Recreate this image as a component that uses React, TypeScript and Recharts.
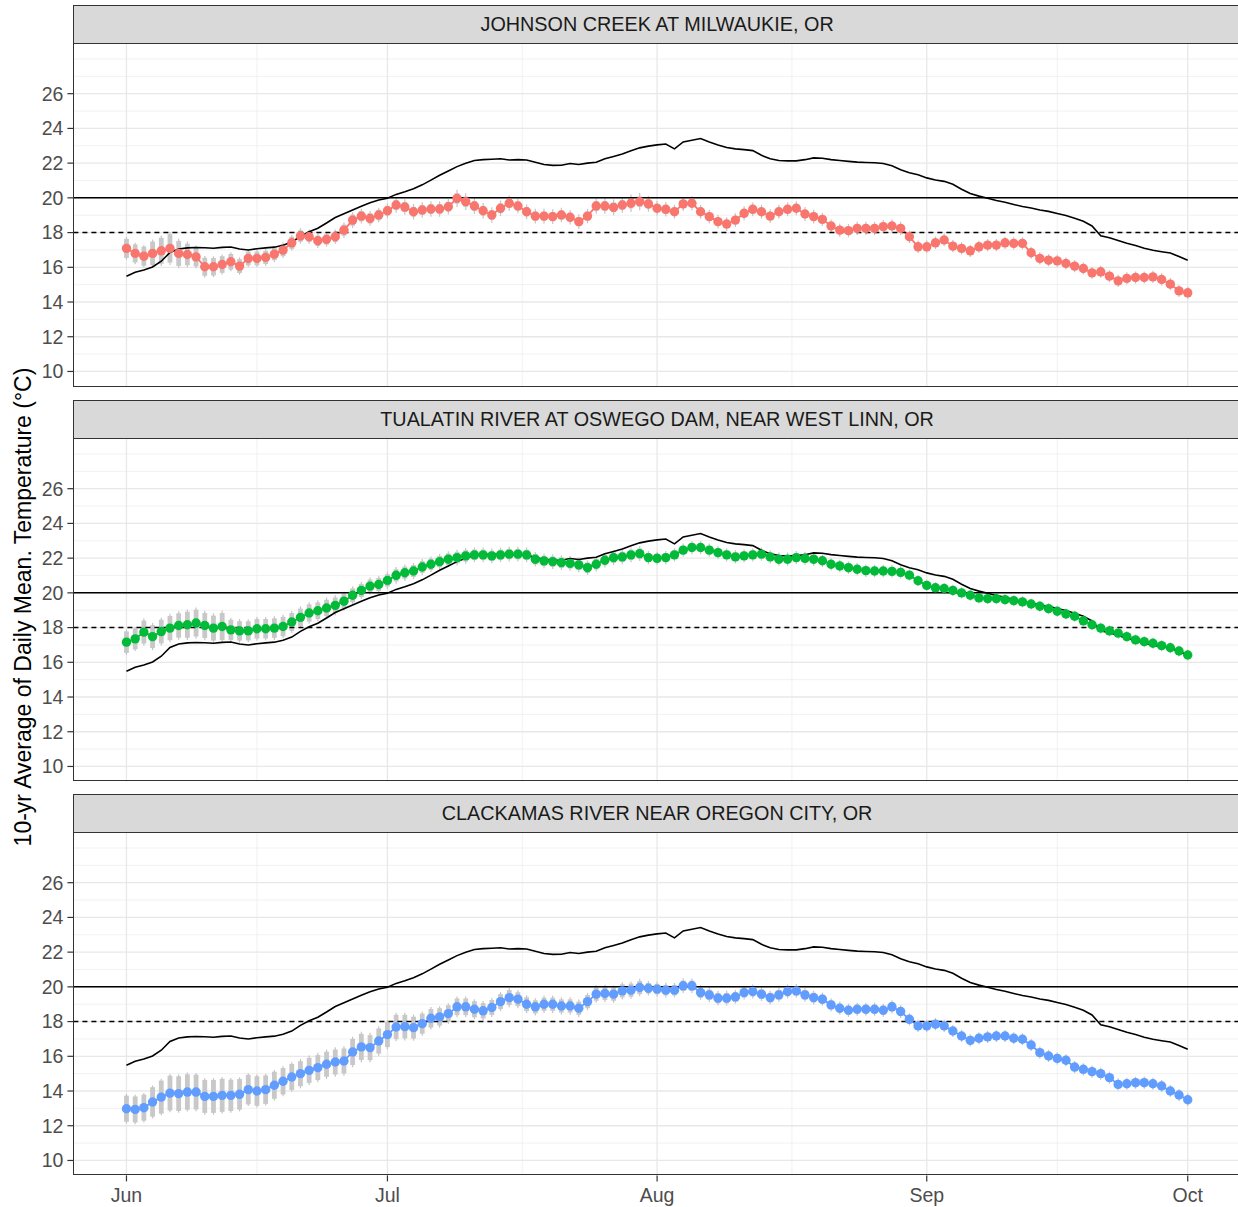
import React from "react";
import {
  ComposedChart,
  Line,
  XAxis,
  YAxis,
  CartesianGrid,
  ReferenceLine,
  ErrorBar,
} from "recharts";

// days since Jun 1 (0 = Jun 1, 122 = Oct 1)
const days = Array.from({ length: 123 }, (_, i) => i);
const monthTicks = [0, 30, 61, 92, 122];
const monthLabels = ["Jun", "Jul", "Aug", "Sep", "Oct"];
const midMonthTicks = [15, 45.5, 76.5, 107];
const yTicks = [10, 12, 14, 16, 18, 20, 22, 24, 26];
const yMinor = [11, 13, 15, 17, 19, 21, 23, 25, 27, 28];

// black reference line (same in every panel)
const refLine = [
  15.49, 15.72, 15.85, 16.02, 16.35, 16.85, 17.05, 17.12, 17.14, 17.13,
  17.1, 17.15, 17.17, 17.05, 17.0, 17.07, 17.12, 17.16, 17.27, 17.45,
  17.78, 18.05, 18.25, 18.55, 18.87, 19.08, 19.3, 19.52, 19.72, 19.88,
  19.98, 20.2, 20.35, 20.52, 20.75, 21.02, 21.3, 21.55, 21.8, 22.0,
  22.15, 22.2, 22.22, 22.25, 22.18, 22.2, 22.18, 22.05, 21.92, 21.87,
  21.88, 21.98, 21.92, 22.0, 22.05, 22.25, 22.38, 22.52, 22.72, 22.88,
  22.98, 23.05, 23.1, 22.82, 23.22, 23.32, 23.42, 23.22, 23.05, 22.9,
  22.82, 22.78, 22.72, 22.45, 22.25, 22.15, 22.13, 22.13, 22.2, 22.3,
  22.28, 22.2, 22.15, 22.1, 22.06, 22.04, 22.02, 21.98, 21.85, 21.62,
  21.45, 21.33, 21.15, 21.03, 20.95, 20.78, 20.5, 20.25, 20.1, 19.98,
  19.85, 19.75, 19.62, 19.5, 19.42, 19.3, 19.22, 19.1, 18.98, 18.82,
  18.65, 18.38, 17.82, 17.7, 17.55, 17.38, 17.25, 17.1, 16.98, 16.9,
  16.82, 16.62, 16.4,
];

const johnson = [
  17.09, 16.8, 16.64, 16.8, 16.95, 17.09, 16.8, 16.74, 16.6, 16.03,
  16.03, 16.16, 16.32, 16.07, 16.51, 16.51, 16.57, 16.76, 16.99, 17.41,
  17.8, 17.76, 17.53, 17.61, 17.76, 18.14, 18.72, 18.95, 18.82, 19.01,
  19.26, 19.59, 19.47, 19.2, 19.3, 19.36, 19.36, 19.49, 19.97, 19.78,
  19.53, 19.26, 19.01, 19.4, 19.69, 19.53, 19.2, 18.95, 18.95, 18.92,
  19.01, 18.88, 18.63, 18.95, 19.53, 19.53, 19.45, 19.59, 19.69, 19.78,
  19.65, 19.4, 19.34, 19.2, 19.65, 19.69, 19.2, 18.92, 18.63, 18.49,
  18.72, 19.11, 19.34, 19.2, 18.95, 19.2, 19.34, 19.4, 19.07, 18.92,
  18.76, 18.38, 18.14, 18.11, 18.24, 18.24, 18.24, 18.34, 18.38, 18.24,
  17.76, 17.18, 17.18, 17.41, 17.57, 17.22, 17.09, 16.95, 17.18, 17.28,
  17.28, 17.41, 17.38, 17.38, 16.84, 16.51, 16.41, 16.37, 16.22, 16.07,
  15.93, 15.68, 15.74, 15.49, 15.22, 15.36, 15.41, 15.41, 15.45, 15.3,
  15.03, 14.64, 14.53,
];
const johnsonSe = [
  0.55, 0.52, 0.55, 0.68, 0.75, 0.82, 0.72, 0.62, 0.55, 0.52,
  0.5, 0.48, 0.45, 0.4, 0.4, 0.4, 0.38, 0.35, 0.35, 0.35,
  0.33, 0.3, 0.3, 0.3, 0.3, 0.32, 0.32, 0.3, 0.3, 0.3,
  0.28, 0.28, 0.28, 0.28, 0.28, 0.28, 0.28, 0.28, 0.3, 0.3,
  0.28, 0.28, 0.28, 0.28, 0.28, 0.26, 0.26, 0.26, 0.26, 0.26,
  0.26, 0.26, 0.26, 0.26, 0.28, 0.28, 0.28, 0.28, 0.3, 0.3,
  0.26, 0.24, 0.24, 0.22, 0.22, 0.22, 0.22, 0.22, 0.22, 0.22,
  0.22, 0.22, 0.22, 0.22, 0.22, 0.22, 0.22, 0.22, 0.22, 0.22,
  0.2, 0.2, 0.2, 0.2, 0.2, 0.2, 0.2, 0.2, 0.2, 0.2,
  0.2, 0.2, 0.2, 0.2, 0.2, 0.18, 0.18, 0.18, 0.18, 0.18,
  0.18, 0.18, 0.18, 0.18, 0.18, 0.18, 0.18, 0.18, 0.18, 0.18,
  0.18, 0.18, 0.18, 0.18, 0.18, 0.18, 0.18, 0.18, 0.18, 0.18,
  0.18, 0.18, 0.18,
];
const johnsonCi = [
  0.65, 0.62, 0.65, 0.8, 0.88, 0.96, 0.85, 0.75, 0.65, 0.62,
  0.6, 0.58, 0.55, 0.5, 0.5, 0.5, 0.48, 0.45, 0.45, 0.45,
  0.45, 0.42, 0.42, 0.42, 0.42, 0.45, 0.45, 0.42, 0.42, 0.42,
  0.42, 0.45, 0.45, 0.45, 0.45, 0.45, 0.45, 0.45, 0.5, 0.48,
  0.45, 0.45, 0.45, 0.45, 0.45, 0.42, 0.42, 0.42, 0.42, 0.42,
  0.42, 0.42, 0.42, 0.42, 0.45, 0.45, 0.45, 0.45, 0.5, 0.5,
  0.45, 0.42, 0.42, 0.4, 0.4, 0.4, 0.4, 0.4, 0.4, 0.4,
  0.4, 0.4, 0.4, 0.4, 0.4, 0.4, 0.4, 0.4, 0.4, 0.4,
  0.38, 0.38, 0.38, 0.38, 0.38, 0.38, 0.38, 0.38, 0.38, 0.38,
  0.36, 0.36, 0.36, 0.36, 0.36, 0.35, 0.35, 0.35, 0.35, 0.35,
  0.35, 0.35, 0.35, 0.35, 0.35, 0.35, 0.35, 0.35, 0.35, 0.35,
  0.35, 0.35, 0.35, 0.35, 0.35, 0.35, 0.35, 0.35, 0.35, 0.35,
  0.35, 0.35, 0.35,
];

const tualatin = [
  17.16, 17.35, 17.74, 17.48, 17.77, 17.97, 18.12, 18.16, 18.26, 18.12,
  17.97, 18.06, 17.87, 17.81, 17.81, 17.93, 17.93, 17.97, 18.06, 18.32,
  18.59, 18.84, 18.97, 19.13, 19.28, 19.52, 19.86, 20.14, 20.39, 20.48,
  20.72, 21.01, 21.16, 21.26, 21.49, 21.65, 21.8, 21.94, 22.03, 22.13,
  22.19, 22.19, 22.13, 22.19, 22.23, 22.23, 22.19, 21.94, 21.84, 21.8,
  21.74, 21.7, 21.61, 21.45, 21.65, 21.88, 22.03, 22.07, 22.19, 22.26,
  22.03, 21.99, 22.03, 22.19, 22.46, 22.61, 22.61, 22.46, 22.32, 22.19,
  22.07, 22.13, 22.19, 22.23, 22.07, 21.94, 21.94, 22.03, 21.99, 21.94,
  21.85, 21.65, 21.55, 21.45, 21.36, 21.28, 21.26, 21.26, 21.24, 21.18,
  21.02, 20.7, 20.43, 20.29, 20.25, 20.14, 20.0, 19.86, 19.71, 19.67,
  19.67, 19.61, 19.55, 19.48, 19.36, 19.23, 19.09, 18.94, 18.78, 18.65,
  18.39, 18.16, 17.97, 17.81, 17.68, 17.48, 17.29, 17.19, 17.1, 16.96,
  16.84, 16.65, 16.42,
];
const tualatinSe = [
  0.62, 0.6, 0.66, 0.66, 0.68, 0.7, 0.7, 0.75, 0.77, 0.72,
  0.72, 0.78, 0.58, 0.56, 0.55, 0.56, 0.56, 0.56, 0.56, 0.52,
  0.5, 0.5, 0.48, 0.47, 0.45, 0.42, 0.4, 0.38, 0.38, 0.38,
  0.36, 0.35, 0.35, 0.34, 0.34, 0.33, 0.33, 0.33, 0.33, 0.33,
  0.3, 0.3, 0.3, 0.3, 0.3, 0.3, 0.3, 0.3, 0.3, 0.3,
  0.3, 0.3, 0.3, 0.3, 0.3, 0.3, 0.3, 0.3, 0.3, 0.3,
  0.25, 0.25, 0.25, 0.25, 0.25, 0.25, 0.25, 0.25, 0.25, 0.25,
  0.25, 0.25, 0.25, 0.25, 0.25, 0.25, 0.25, 0.25, 0.25, 0.25,
  0.24, 0.24, 0.24, 0.24, 0.24, 0.24, 0.24, 0.24, 0.24, 0.24,
  0.2, 0.2, 0.2, 0.2, 0.2, 0.2, 0.2, 0.2, 0.2, 0.2,
  0.2, 0.2, 0.2, 0.2, 0.2, 0.2, 0.2, 0.2, 0.2, 0.2,
  0.2, 0.2, 0.2, 0.2, 0.2, 0.2, 0.2, 0.2, 0.2, 0.2,
  0.2, 0.2, 0.2,
];
const tualatinCi = [
  0.73, 0.7, 0.78, 0.78, 0.8, 0.82, 0.82, 0.88, 0.9, 0.85,
  0.85, 0.92, 0.7, 0.68, 0.66, 0.68, 0.68, 0.68, 0.68, 0.63,
  0.63, 0.62, 0.6, 0.6, 0.58, 0.55, 0.52, 0.5, 0.5, 0.5,
  0.5, 0.48, 0.48, 0.46, 0.46, 0.45, 0.45, 0.45, 0.45, 0.45,
  0.42, 0.42, 0.42, 0.42, 0.42, 0.42, 0.42, 0.42, 0.42, 0.42,
  0.42, 0.42, 0.42, 0.42, 0.42, 0.42, 0.42, 0.42, 0.42, 0.42,
  0.38, 0.38, 0.38, 0.38, 0.38, 0.38, 0.38, 0.38, 0.38, 0.38,
  0.38, 0.38, 0.38, 0.38, 0.38, 0.38, 0.38, 0.38, 0.38, 0.38,
  0.36, 0.36, 0.36, 0.36, 0.36, 0.36, 0.36, 0.36, 0.36, 0.36,
  0.32, 0.32, 0.32, 0.32, 0.32, 0.32, 0.32, 0.32, 0.32, 0.32,
  0.32, 0.32, 0.32, 0.32, 0.32, 0.32, 0.32, 0.32, 0.32, 0.32,
  0.32, 0.32, 0.32, 0.32, 0.32, 0.32, 0.32, 0.32, 0.32, 0.32,
  0.32, 0.32, 0.32,
];

const clackamas = [
  12.98, 12.94, 13.04, 13.37, 13.65, 13.88, 13.85, 13.94, 13.94, 13.69,
  13.69, 13.75, 13.75, 13.81, 14.08, 14.0, 14.08, 14.33, 14.56, 14.81,
  15.0, 15.19, 15.35, 15.54, 15.67, 15.73, 16.25, 16.54, 16.5, 16.88,
  17.25, 17.69, 17.71, 17.65, 17.88, 18.19, 18.27, 18.46, 18.85, 18.85,
  18.71, 18.62, 18.81, 19.15, 19.38, 19.29, 19.0, 18.85, 19.0, 19.0,
  18.9, 18.9, 18.77, 19.15, 19.58, 19.62, 19.58, 19.77, 19.81, 19.96,
  19.92, 19.87, 19.81, 19.81, 20.06, 20.06, 19.67, 19.54, 19.35, 19.35,
  19.42, 19.67, 19.73, 19.58, 19.38, 19.54, 19.73, 19.77, 19.54, 19.38,
  19.29, 18.96, 18.77, 18.65, 18.71, 18.71, 18.71, 18.65, 18.85, 18.58,
  18.13, 17.75, 17.75, 17.85, 17.75, 17.46, 17.17, 16.92, 17.04, 17.12,
  17.17, 17.17, 17.04, 16.98, 16.65, 16.21, 16.02, 15.88, 15.77, 15.38,
  15.25, 15.12, 15.0, 14.77, 14.38, 14.42, 14.48, 14.48, 14.42, 14.29,
  14.0, 13.77, 13.5,
];
const clackamasSe = [
  0.75, 0.75, 0.75, 0.85, 0.95, 1.0, 1.0, 1.02, 1.0, 0.95,
  0.95, 0.95, 0.9, 0.88, 0.85, 0.85, 0.82, 0.78, 0.76, 0.75,
  0.72, 0.72, 0.72, 0.72, 0.72, 0.72, 0.75, 0.75, 0.72, 0.72,
  0.72, 0.7, 0.68, 0.63, 0.58, 0.53, 0.5, 0.48, 0.48, 0.48,
  0.46, 0.44, 0.43, 0.43, 0.43, 0.4, 0.4, 0.38, 0.38, 0.38,
  0.38, 0.38, 0.38, 0.38, 0.38, 0.38, 0.38, 0.38, 0.38, 0.38,
  0.3, 0.3, 0.3, 0.3, 0.3, 0.3, 0.3, 0.3, 0.3, 0.3,
  0.28, 0.28, 0.28, 0.28, 0.28, 0.28, 0.28, 0.28, 0.28, 0.28,
  0.26, 0.26, 0.26, 0.26, 0.26, 0.26, 0.26, 0.26, 0.26, 0.26,
  0.22, 0.22, 0.22, 0.22, 0.22, 0.22, 0.22, 0.22, 0.22, 0.22,
  0.22, 0.22, 0.22, 0.22, 0.22, 0.22, 0.22, 0.22, 0.22, 0.22,
  0.22, 0.22, 0.22, 0.22, 0.22, 0.22, 0.22, 0.22, 0.22, 0.22,
  0.22, 0.22, 0.22,
];
const clackamasCi = [
  0.85, 0.85, 0.85, 0.95, 1.05, 1.1, 1.1, 1.12, 1.1, 1.05,
  1.05, 1.05, 1.0, 0.98, 0.95, 0.95, 0.92, 0.88, 0.86, 0.85,
  0.85, 0.85, 0.85, 0.85, 0.85, 0.85, 0.88, 0.88, 0.85, 0.85,
  0.85, 0.82, 0.8, 0.75, 0.7, 0.65, 0.62, 0.6, 0.6, 0.6,
  0.58, 0.56, 0.55, 0.55, 0.55, 0.52, 0.52, 0.5, 0.5, 0.5,
  0.5, 0.5, 0.5, 0.5, 0.5, 0.5, 0.5, 0.5, 0.5, 0.5,
  0.42, 0.42, 0.42, 0.42, 0.42, 0.42, 0.42, 0.42, 0.42, 0.42,
  0.4, 0.4, 0.4, 0.4, 0.4, 0.4, 0.4, 0.4, 0.4, 0.4,
  0.38, 0.38, 0.38, 0.38, 0.38, 0.38, 0.38, 0.38, 0.38, 0.38,
  0.35, 0.35, 0.35, 0.35, 0.35, 0.35, 0.35, 0.35, 0.35, 0.35,
  0.35, 0.35, 0.35, 0.35, 0.35, 0.35, 0.35, 0.35, 0.35, 0.35,
  0.35, 0.35, 0.35, 0.35, 0.35, 0.35, 0.35, 0.35, 0.35, 0.35,
  0.35, 0.35, 0.35,
];

const panels = [
  { title: "JOHNSON CREEK AT MILWAUKIE, OR", values: johnson, se: johnsonSe, ci: johnsonCi, color: "#F8766D" },
  { title: "TUALATIN RIVER AT OSWEGO DAM, NEAR WEST LINN, OR", values: tualatin, se: tualatinSe, ci: tualatinCi, color: "#00BA38" },
  { title: "CLACKAMAS RIVER NEAR OREGON CITY, OR", values: clackamas, se: clackamasSe, ci: clackamasCi, color: "#619CFF" },
];

const FONT = "'Liberation Sans', Arial, Helvetica, sans-serif";
const PLOT_LEFT = 73.4;
const PLOT_W = 1167.4;
const PLOT_H = 343.4;
const STRIP_H = 38;
const PANEL_TOPS = [43.3, 437.6, 831.8];
const PAD = 10;

function Panel({ idx, showX }: { idx: number; showX: boolean }) {
  const p = panels[idx];
  const top = PANEL_TOPS[idx];
  const rows = days.map((d, i) => ({
    day: d,
    v: p.values[i],
    se: p.se[i],
    ci: p.ci[i],
    ref: refLine[i],
  }));
  const xAxisH = 36;
  const chartH = PLOT_H + PAD + (showX ? xAxisH : PAD);

  return (
    <>
      <div
        style={{
          position: "absolute",
          left: PLOT_LEFT,
          top: top - STRIP_H,
          width: PLOT_W,
          height: STRIP_H,
          boxSizing: "border-box",
          background: "#D9D9D9",
          border: "1.3px solid #333333",
          borderBottom: "none",
          display: "flex",
          alignItems: "center",
          justifyContent: "center",
          fontFamily: FONT,
          fontSize: 19.8,
          color: "#1A1A1A",
        }}
      >
        {p.title}
      </div>
      <div style={{ position: "absolute", left: 0, top: top - PAD }}>
        <ComposedChart
          width={PLOT_LEFT + PLOT_W}
          height={chartH}
          data={rows}
          margin={{ top: PAD, right: 0, bottom: showX ? 0 : PAD, left: 0 }}
        >
          <CartesianGrid
            stroke="#EBEBEB"
            strokeWidth={0.7}
            horizontalValues={yMinor}
            verticalValues={midMonthTicks}
          />
          <CartesianGrid
            stroke="#E8E8E8"
            strokeWidth={1.3}
            horizontalValues={yTicks}
            verticalValues={monthTicks}
          />
          <XAxis
            type="number"
            dataKey="day"
            domain={[-6.1, 128.1]}
            allowDataOverflow
            ticks={monthTicks}
            interval={0}
            hide={!showX}
            height={xAxisH}
            tickFormatter={(v: number) => monthLabels[monthTicks.indexOf(v)]}
            tick={{ fontSize: 19.5, fill: "#4D4D4D", fontFamily: FONT }}
            tickLine={{ stroke: "#333333", strokeWidth: 1.2 }}
            axisLine={false}
            tickSize={6}
            tickMargin={7}
          />
          <YAxis
            type="number"
            domain={[9.14, 28.92]}
            allowDataOverflow
            ticks={yTicks}
            interval={0}
            width={PLOT_LEFT}
            tick={{ fontSize: 19.5, fill: "#4D4D4D", fontFamily: FONT }}
            tickLine={{ stroke: "#333333", strokeWidth: 1.2 }}
            axisLine={false}
            tickSize={6}
            tickMargin={4}
          />
          <Line
            dataKey="v"
            stroke="none"
            dot={false}
            activeDot={false}
            isAnimationActive={false}
            legendType="none"
          >
            <ErrorBar dataKey="ci" width={0} stroke="#C4C4C4" strokeWidth={1.2} direction="y" isAnimationActive={false} />
            <ErrorBar dataKey="se" width={0} stroke="#C8C8C8" strokeWidth={4.8} direction="y" isAnimationActive={false} />
          </Line>
          <Line
            dataKey="v"
            stroke={p.color}
            strokeWidth={1.8}
            dot={{ r: 4.7, fill: p.color, stroke: "none", strokeWidth: 0 }}
            activeDot={false}
            isAnimationActive={false}
          />
          <Line
            dataKey="ref"
            stroke="#000000"
            strokeWidth={1.6}
            dot={false}
            activeDot={false}
            isAnimationActive={false}
          />
          <ReferenceLine y={20} stroke="#000000" strokeWidth={1.5} />
          <ReferenceLine y={18} stroke="#000000" strokeWidth={1.5} strokeDasharray="5 4" />
        </ComposedChart>
      </div>
      <div
        style={{
          position: "absolute",
          left: PLOT_LEFT,
          top,
          width: PLOT_W,
          height: PLOT_H,
          boxSizing: "border-box",
          border: "1.3px solid #333333",
          pointerEvents: "none",
        }}
      />
    </>
  );
}

export default function App() {
  return (
    <div
      style={{
        position: "absolute",
        left: 0,
        top: 0,
        width: 1238,
        height: 1207,
        overflow: "hidden",
        background: "#FFFFFF",
      }}
    >
      <div
        style={{
          position: "absolute",
          left: 23,
          top: 607,
          transform: "translate(-50%, -50%) rotate(-90deg)",
          whiteSpace: "nowrap",
          fontFamily: FONT,
          fontSize: 23,
          color: "#000000",
        }}
      >
        10-yr Average of Daily Mean. Temperature (°C)
      </div>
      <Panel idx={0} showX={false} />
      <Panel idx={1} showX={false} />
      <Panel idx={2} showX={true} />
    </div>
  );
}
